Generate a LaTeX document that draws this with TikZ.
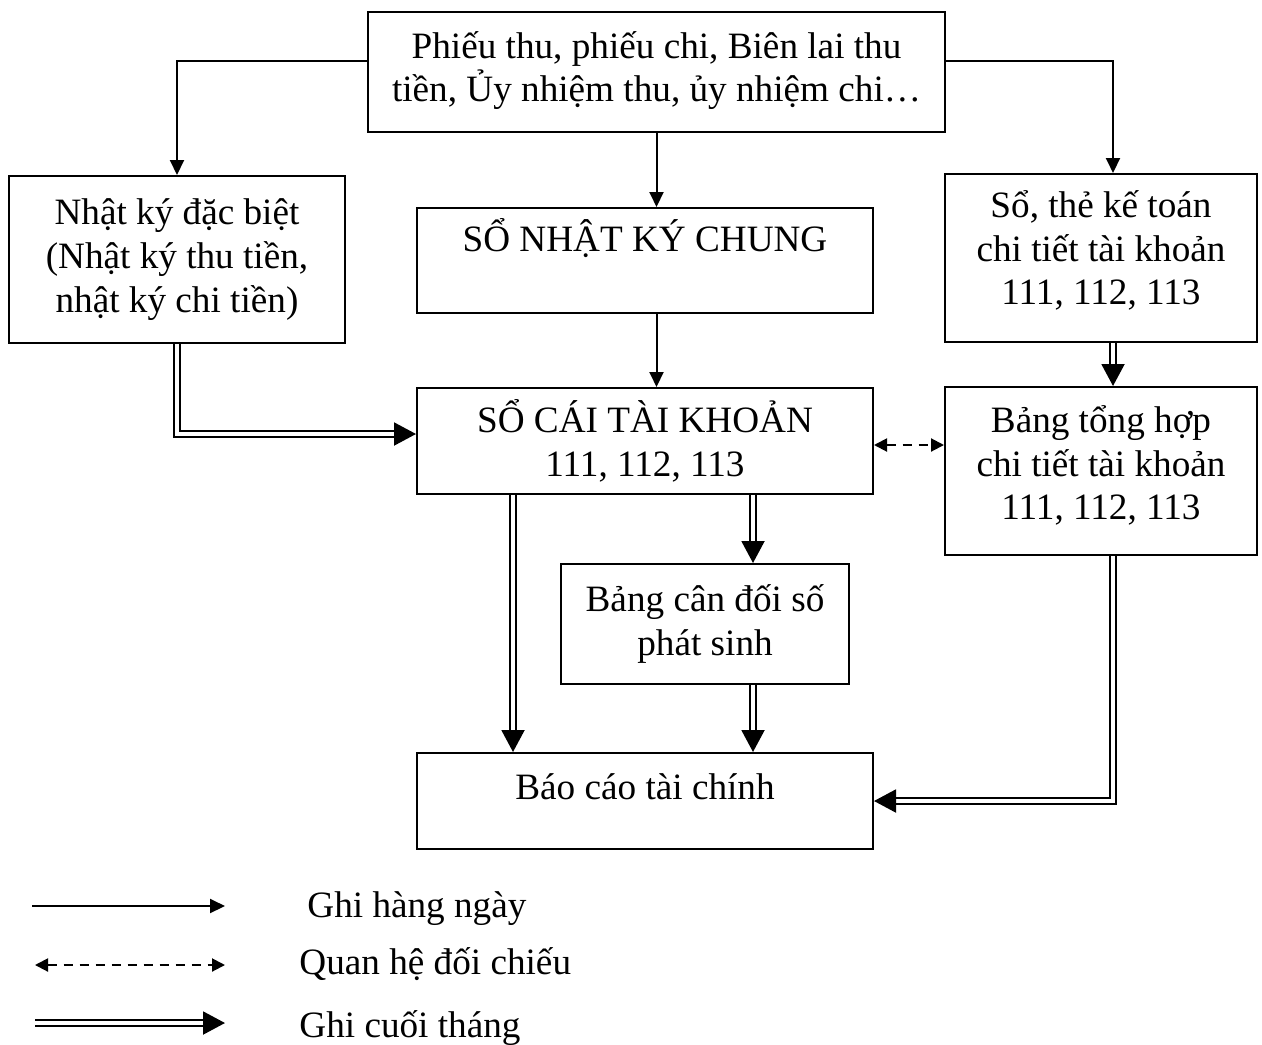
\documentclass[tikz,border=0pt]{standalone}
\usepackage{fontspec}
\setmainfont{Liberation Serif}
\usetikzlibrary{arrows.meta}

\tikzset{
  box/.style={draw, line width=1pt, align=center, inner sep=2pt,
    font=\fontsize{18.6}{21.8}\selectfont},
  daily/.style={line width=1pt, -{Triangle[length=7.5pt,width=7pt]}},
  monthly/.style={line width=1pt, double distance=1.6pt,
    -{Triangle[length=11pt,width=11.5pt]}},
  compare/.style={line width=1pt, dash pattern=on 4.5pt off 3.5pt,
    {Triangle[length=6.5pt,width=6.5pt]}-{Triangle[length=6.5pt,width=6.5pt]}},
  legendtext/.style={anchor=west, inner sep=0pt,
    font=\fontsize{18.6}{21.8}\selectfont},
}

\begin{document}
\begin{tikzpicture}[x=0.5pt, y=-0.5pt]
  \useasboundingbox (0,0) rectangle (1262,1044);

  % source documents
  \node[box, minimum width=288.5pt, minimum height=60pt] (src) at (656.5,72)
    {Phiếu thu, phiếu chi, Biên lai thu\\tiền, Ủy nhiệm thu, ủy nhiệm chi…\\[-23pt]\strut};

  % journals and detail ledgers
  \node[box, minimum width=168pt, minimum height=83.5pt] (special) at (177,259.5)
    {Nhật ký đặc biệt\\(Nhật ký thu tiền,\\nhật ký chi tiền)};
  \node[box, minimum width=228pt, minimum height=52.5pt,
        text height=13pt, text depth=22pt] (general) at (645,260.5)
    {SỔ NHẬT KÝ CHUNG};
  \node[box, minimum width=156pt, minimum height=84pt] (detail) at (1101,258)
    {Sổ, thẻ kế toán\\chi tiết tài khoản\\111, 112, 113\\[-18pt]\strut};

  % ledger and summaries
  \node[box, minimum width=228pt, minimum height=53pt] (ledger) at (645,441)
    {SỔ CÁI TÀI KHOẢN\\111, 112, 113};
  \node[box, minimum width=156pt, minimum height=84pt] (summary) at (1101,471)
    {Bảng tổng hợp\\chi tiết tài khoản\\111, 112, 113\\[-20pt]\strut};
  \node[box, minimum width=144pt, minimum height=60pt] (trial) at (705,624)
    {Bảng cân đối số\\phát sinh};

  % financial statements
  \node[box, minimum width=228pt, minimum height=48pt,
        text height=13pt, text depth=15pt] (report) at (645,801)
    {Báo cáo tài chính};

  % daily entries
  \draw[daily] ([yshift=5.5pt]src.west) -| (special.north);
  \draw[daily] (src.south) -- (src.south |- general.north);
  \draw[daily] ([yshift=5.5pt]src.east) -| ([xshift=6pt]detail.north);
  \draw[daily] (src.south |- general.south) -- (src.south |- ledger.north);

  % month-end entries
  \draw[monthly] (special.south) |- ([yshift=3.5pt]ledger.west);
  \draw[monthly] ([xshift=6pt]detail.south) -- ([xshift=6pt]summary.north);
  \draw[monthly] ([xshift=-66pt]ledger.south) -- ([xshift=-66pt]report.north);
  \draw[monthly] ([xshift=24pt]trial.north |- ledger.south) -- ([xshift=24pt]trial.north);
  \draw[monthly] ([xshift=24pt]trial.south) -- ([xshift=24pt]trial.south |- report.north);
  \draw[monthly] ([xshift=6pt]summary.south) |- (report.east);

  % cross-check
  \draw[compare] ([yshift=-2pt]ledger.east) -- ([yshift=-2pt]ledger.east -| summary.west);

  % legend
  \coordinate (la) at (32,906);   \coordinate (lb) at (225,906);
  \coordinate (ma) at (35,965);   \coordinate (mb) at (225,965);
  \coordinate (na) at (35,1023);  \coordinate (nb) at (225,1023);
  \draw[daily] (la) -- (lb);
  \draw[compare] (ma) -- (mb);
  \draw[monthly] (na) -- (nb);
  \node[legendtext] (t1) at (307,909) {Ghi hàng ngày};
  \node[legendtext] (t2) at (299,964) {Quan hệ đối chiếu};
  \node[legendtext] (t3) at (299,1028) {Ghi cuối tháng};
\end{tikzpicture}
\end{document}
